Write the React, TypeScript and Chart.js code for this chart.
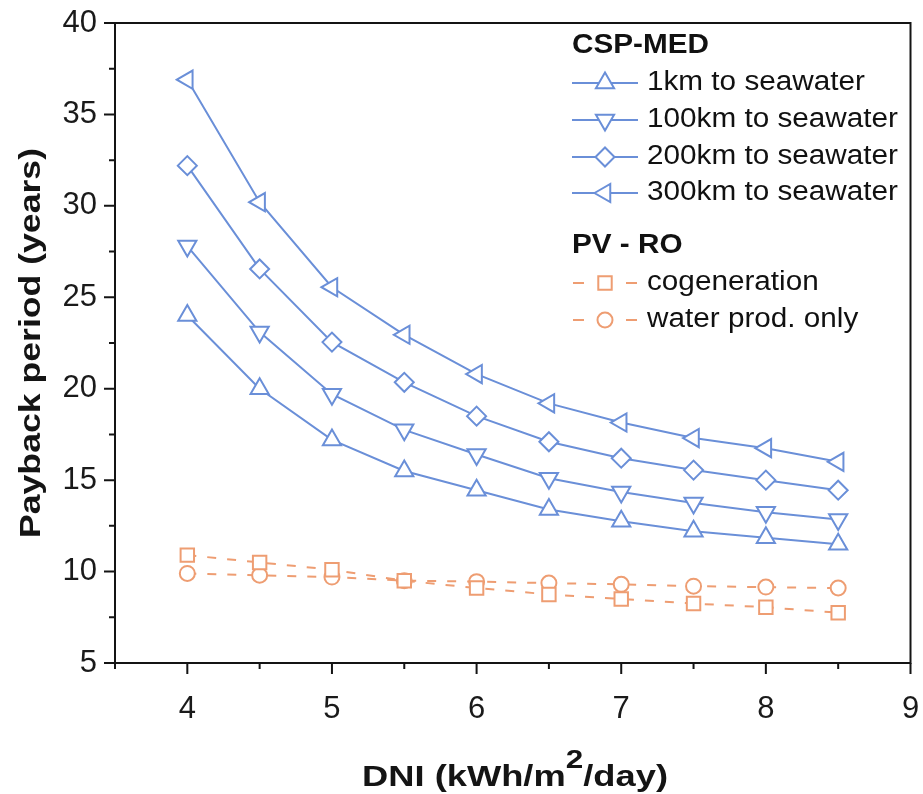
import React, { useEffect, useRef } from 'react';
import { Chart, registerables } from 'chart.js';
import { drawPoint } from 'chart.js/helpers';

Chart.register(...registerables);

// ---- data ----
const dni = [4, 4.5, 5, 5.5, 6, 6.5, 7, 7.5, 8, 8.5];
const csp1km = [24.0, 20.0, 17.2, 15.5, 14.45, 13.4, 12.75, 12.2, 11.85, 11.5];
const csp100km = [27.8, 23.1, 19.7, 17.75, 16.4, 15.1, 14.35, 13.75, 13.25, 12.85];
const csp200km = [32.2, 26.55, 22.55, 20.35, 18.5, 17.1, 16.2, 15.55, 15.0, 14.45];
const csp300km = [36.9, 30.2, 25.55, 22.95, 20.8, 19.2, 18.15, 17.3, 16.75, 16.0];
const pvCogeneration = [10.9, 10.5, 10.1, 9.5, 9.1, 8.75, 8.5, 8.25, 8.05, 7.75];
const pvWaterOnly = [9.9, 9.8, 9.7, 9.5, 9.45, 9.37, 9.3, 9.2, 9.15, 9.1];

const seriesLabels = [
  '1km to seawater',
  '100km to seawater',
  '200km to seawater',
  '300km to seawater',
  'cogeneration',
  'water prod. only',
];
const groupTitles = ['CSP-MED', 'PV - RO'];

const xTickValues = [4, 5, 6, 7, 8, 9];
const xMinorValues = [3.5, 4.5, 5.5, 6.5, 7.5, 8.5];
const yTickValues = [5, 10, 15, 20, 25, 30, 35, 40];
const yMinorValues = [7.5, 12.5, 17.5, 22.5, 27.5, 32.5, 37.5];

const yTitle = 'Payback period (years)';
const xTitleParts = ['DNI (kWh/m', '2', '/day)'];

// ---- styles ----
const BLUE = '#6a8fd8';
const ORANGE = '#ee9d72';
const AXIS = '#141414';
const FONT = '"Liberation Sans", Arial, Helvetica, sans-serif';

const toPts = (ys: number[]) => dni.map((x, i) => ({ x, y: ys[i] }));

function cspDataset(label: string, ys: number[], style: string, rotation: number) {
  return {
    label,
    data: toPts(ys),
    borderColor: BLUE,
    backgroundColor: '#fff',
    borderWidth: 2,
    pointStyle: style,
    pointRotation: rotation,
    pointRadius: style === 'rectRot' ? 9.5 : 10.5,
    pointBorderWidth: 2,
    pointBackgroundColor: '#fff',
    pointBorderColor: BLUE,
    tension: 0,
  };
}

function pvDataset(label: string, ys: number[], style: string) {
  return {
    label,
    data: toPts(ys),
    borderColor: ORANGE,
    backgroundColor: '#fff',
    borderWidth: 2,
    borderDash: [9, 11],
    pointStyle: style,
    pointRotation: 0,
    pointRadius: style === 'circle' ? 7.5 : 9.5,
    pointBorderWidth: 2,
    pointBackgroundColor: '#fff',
    pointBorderColor: ORANGE,
    tension: 0,
  };
}

const framePlugin = {
  id: 'frameTicksTitles',
  afterDraw(chart: any) {
    const { ctx, chartArea: a, scales } = chart;
    const xs = scales.x;
    const ys = scales.y;
    ctx.save();
    ctx.strokeStyle = AXIS;
    ctx.lineWidth = 2;
    ctx.setLineDash([]);
    ctx.strokeRect(a.left, a.top, a.right - a.left, a.bottom - a.top);
    ctx.beginPath();
    xTickValues.forEach((v) => {
      const p = xs.getPixelForValue(v);
      ctx.moveTo(p, a.bottom);
      ctx.lineTo(p, a.bottom + 11);
    });
    xMinorValues.forEach((v) => {
      const p = xs.getPixelForValue(v);
      ctx.moveTo(p, a.bottom);
      ctx.lineTo(p, a.bottom + 6);
    });
    yTickValues.forEach((v) => {
      const p = ys.getPixelForValue(v);
      ctx.moveTo(a.left, p);
      ctx.lineTo(a.left - 11, p);
    });
    yMinorValues.forEach((v) => {
      const p = ys.getPixelForValue(v);
      ctx.moveTo(a.left, p);
      ctx.lineTo(a.left - 6, p);
    });
    ctx.stroke();

    // y title
    ctx.fillStyle = AXIS;
    ctx.save();
    ctx.translate(32, (a.top + a.bottom) / 2);
    ctx.rotate(-Math.PI / 2);
    ctx.font = `bold 30px ${FONT}`;
    const tw = ctx.measureText(yTitle).width;
    ctx.scale(390 / tw, 1);
    ctx.textAlign = 'center';
    ctx.textBaseline = 'middle';
    ctx.fillText(yTitle, 0, 0);
    ctx.restore();

    // x title with superscript
    ctx.save();
    const mainFont = `bold 30px ${FONT}`;
    const supFont = `bold 26px ${FONT}`;
    ctx.font = mainFont;
    const w0 = ctx.measureText(xTitleParts[0]).width;
    const w2 = ctx.measureText(xTitleParts[2]).width;
    ctx.font = supFont;
    const w1 = ctx.measureText(xTitleParts[1]).width;
    const total = w0 + w1 + w2;
    const sx = 306 / total;
    ctx.translate(515, 786);
    ctx.scale(sx, 1);
    ctx.textAlign = 'left';
    ctx.textBaseline = 'alphabetic';
    let cx = -total / 2;
    ctx.font = mainFont;
    ctx.fillText(xTitleParts[0], cx, 0);
    cx += w0;
    ctx.font = supFont;
    ctx.fillText(xTitleParts[1], cx, -18);
    cx += w1;
    ctx.font = mainFont;
    ctx.fillText(xTitleParts[2], cx, 0);
    ctx.restore();

    // legend
    const datasets = chart.data.datasets;
    const hs = 1.1;
    const drawText = (text: string, x: number, y: number, bold: boolean) => {
      ctx.save();
      ctx.font = `${bold ? 'bold ' : ''}27px ${FONT}`;
      ctx.textAlign = 'left';
      ctx.textBaseline = 'middle';
      ctx.translate(x, y);
      ctx.scale(hs, 1);
      ctx.fillStyle = '#111';
      ctx.fillText(text, 0, 0);
      ctx.restore();
    };
    const drawEntry = (i: number, y: number) => {
      const ds = datasets[i];
      ctx.save();
      ctx.strokeStyle = ds.borderColor;
      ctx.lineWidth = 1.8;
      ctx.beginPath();
      if (ds.borderDash) {
        ctx.moveTo(573, y);
        ctx.lineTo(584, y);
        ctx.moveTo(626, y);
        ctx.lineTo(637, y);
      } else {
        ctx.moveTo(572, y);
        ctx.lineTo(638, y);
      }
      ctx.stroke();
      ctx.fillStyle = '#fff';
      ctx.strokeStyle = ds.pointBorderColor;
      ctx.lineWidth = ds.pointBorderWidth;
      drawPoint(
        ctx,
        {
          pointStyle: ds.pointStyle,
          rotation: ds.pointRotation,
          radius: ds.pointRadius,
          borderWidth: ds.pointBorderWidth,
        },
        605,
        y
      );
      ctx.restore();
      drawText(ds.label, 647, y, false);
    };
    drawText(groupTitles[0], 572, 46, true);
    [83, 120, 157, 193].forEach((y, k) => drawEntry(k, y));
    drawText(groupTitles[1], 572, 246, true);
    [283, 320].forEach((y, k) => drawEntry(4 + k, y));
    ctx.restore();
  },
};

export default function App() {
  const ref = useRef<HTMLCanvasElement | null>(null);
  useEffect(() => {
    if (!ref.current) return;
    const chart = new Chart(ref.current, {
      type: 'line',
      data: {
        datasets: [
          cspDataset(seriesLabels[0], csp1km, 'triangle', 0),
          cspDataset(seriesLabels[1], csp100km, 'triangle', 180),
          cspDataset(seriesLabels[2], csp200km, 'rectRot', 0),
          cspDataset(seriesLabels[3], csp300km, 'triangle', 270),
          pvDataset(seriesLabels[4], pvCogeneration, 'rect'),
          pvDataset(seriesLabels[5], pvWaterOnly, 'circle'),
        ] as any,
      },
      options: {
        animation: false,
        responsive: false,
        devicePixelRatio: 1,
        layout: { padding: { top: 23, right: 11, left: 0, bottom: 0 } },
        plugins: { legend: { display: false }, tooltip: { enabled: false } },
        scales: {
          x: {
            type: 'linear',
            min: 3.5,
            max: 9,
            afterBuildTicks: (s: any) => {
              s.ticks = xTickValues.map((v) => ({ value: v }));
            },
            afterFit: (s: any) => {
              s.height = 131;
              s.paddingLeft = 0;
              s.paddingRight = 0;
            },
            grid: { display: false },
            border: { display: false },
            ticks: {
              autoSkip: false,
              maxRotation: 0,
              padding: 20,
              color: '#1a1a1a',
              font: { family: FONT, size: 31 },
              callback: (v: any) => String(v),
            },
          },
          y: {
            type: 'linear',
            min: 5,
            max: 40,
            afterBuildTicks: (s: any) => {
              s.ticks = yTickValues.map((v) => ({ value: v }));
            },
            afterFit: (s: any) => {
              s.width = 115;
              s.paddingTop = 0;
              s.paddingBottom = 0;
            },
            grid: { display: false },
            border: { display: false },
            ticks: {
              autoSkip: false,
              padding: 10,
              color: '#1a1a1a',
              font: { family: FONT, size: 31 },
              callback: (v: any) => String(v),
            },
          },
        },
      },
      plugins: [framePlugin],
    });
    return () => chart.destroy();
  }, []);
  return (
    <div style={{ position: 'fixed', left: 0, top: 0, width: 923, height: 794, background: '#fff' }}>
      <canvas ref={ref} width={923} height={794} style={{ display: 'block' }} />
    </div>
  );
}
